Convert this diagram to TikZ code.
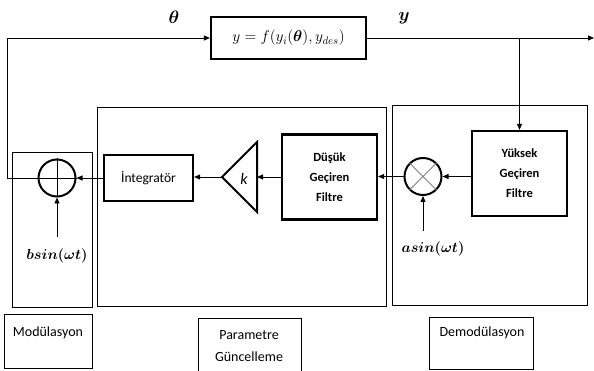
\RequirePackage{fix-cm}
\documentclass[tikz,border=0pt]{standalone}
\usepackage{fontspec}
\usepackage{amsmath,bm}
\newfontfamily\labfont{Carlito}
\usetikzlibrary{arrows.meta}

\tikzset{
  blk/.style={draw, line width=2.2pt, inner sep=0pt, align=center,
    font=\labfont\bfseries\fontsize{12.5}{20}\selectfont},
  region/.style={draw, line width=0.8pt},
  sig/.style={line width=0.9pt, -{Triangle[length=6pt,width=5pt]}},
  junc/.style={circle, draw, line width=2pt, minimum size=37pt, inner sep=0pt},
  caption/.style={font=\labfont\fontsize{14}{22}\selectfont, align=center},
  mathlab/.style={font=\fontsize{14.5}{16}\selectfont, inner sep=0pt},
  siglab/.style={font=\fontsize{18}{20}\selectfont, inner sep=0pt},
}

\begin{document}
\begin{tikzpicture}[x=1pt, y=-1pt]
\useasboundingbox (0,0) rectangle (594,371);

% grouping frames
\draw[region] (12,152) rectangle (92,307);
\draw[region] (97,107) rectangle (386,306);
\draw[region] (392,105) rectangle (587,305);

% frame captions
\draw[region] (4,314) rectangle (92,368);
\node[caption] (capmod) at (48,333) {Modülasyon};
\draw[region] (198,318) rectangle (301,376);
\node[caption] (cappar) at (249,346) {Parametre\\Güncelleme};
\draw[region] (429,317) rectangle (533,369);
\node[caption] (capdem) at (482,333) {Demodülasyon};

% plant
\node[blk, minimum width=155pt, minimum height=42pt, font=\fontsize{15.5}{17}\selectfont]
  (fbox) at (288.5,38) {$y = f(y_i(\bm{\theta}), y_{des})$};

% blocks
\node[blk, minimum width=89pt, minimum height=46pt, font=\labfont\fontsize{13.5}{20}\selectfont]
  (integ) at (148.5,178) {İntegratör};
\node[blk, minimum width=95pt, minimum height=85pt] (dusuk) at (329.5,177) {Düşük\\Geçiren\\Filtre};
\node[blk, minimum width=95pt, minimum height=85pt] (yuksek) at (519.5,173.5) {Yüksek\\Geçiren\\Filtre};

% summing and multiplying junctions
\node[junc] (sum) at (57,178) {};
\draw[line width=0.8pt] (sum.north) -- (sum.south) (sum.west) -- (sum.east);
\node[junc] (mult) at (423,176.5) {};
\draw[line width=0.8pt, gray] (mult.north west) -- (mult.south east)
  (mult.north east) -- (mult.south west);

% gain
\coordinate (gtip) at (222,177);
\coordinate (gin) at (257,177);
\draw[line width=2pt, line join=miter] (gtip) -- (257,142) -- (257,212) -- cycle;
\node[font=\labfont\itshape\fontsize{16}{18}\selectfont, inner sep=0pt] (gk) at (244,179) {k};

% dither inputs
\node[mathlab] (bsin) at (57,256) {$\bm{bsin(\omega t)}$};
\node[mathlab] (asin) at (433,249) {$\bm{asin(\omega t)}$};
\coordinate (bsrc) at (57,237);
\coordinate (asrc) at (423,231);

% signal labels
\node[siglab] (thlab) at (174,17) {$\bm{\theta}$};
\node[siglab] (ylab) at (404,18) {$\bm{y}$};
\coordinate (yout) at (594,38);

% connectors
\draw[sig] (sum.west) -- (7,178) |- (fbox.west);
\draw[sig] (fbox.east) -- (yout);
\draw[sig] (fbox.east -| yuksek.north) -- (yuksek.north);
\draw[sig] (yuksek.west |- mult.east) -- (mult.east);
\draw[sig] (mult.west) -- (dusuk.east |- mult.west);
\draw[sig] (dusuk.west |- gin) -- (gin);
\draw[sig] (gtip) -- (integ.east |- gtip);
\draw[sig] (integ.west |- sum.east) -- (sum.east);
\draw[sig] (bsrc) -- (sum.south);
\draw[sig] (asrc) -- (mult.south);
\end{tikzpicture}
\end{document}
